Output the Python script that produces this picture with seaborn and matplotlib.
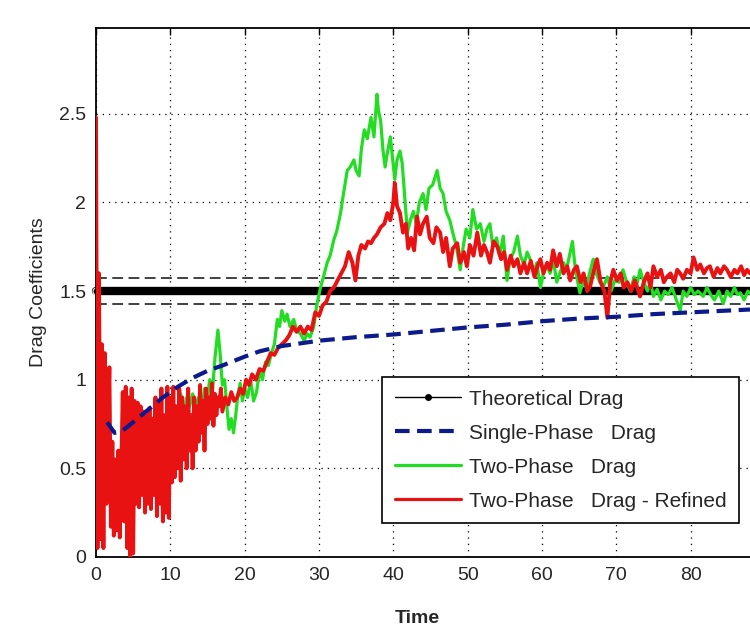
import seaborn as sns
import matplotlib.pyplot as plt
from matplotlib.lines import Line2D

# theoretical drag (constant) and +/-5% band
theo_t = [0, 100]
theo_v = [1.5, 1.5]
band_hi = [1.575, 1.575]
band_lo = [1.425, 1.425]

# single-phase drag
single_t = [1.5, 2.5, 3.5, 5, 7, 9, 11, 13, 15, 17, 20, 22, 25, 30, 35, 40, 45,
            50, 55, 60, 65, 70, 75, 80, 85, 90, 100]
single_v = [0.76, 0.70, 0.71, 0.76, 0.83, 0.90, 0.96, 1.01, 1.05, 1.08, 1.13, 1.16,
            1.19, 1.22, 1.24, 1.255, 1.275, 1.295, 1.31, 1.33, 1.345, 1.355, 1.37,
            1.38, 1.39, 1.40, 1.42]

# two-phase drag
green_t = [10.5, 11.0, 11.4, 11.8, 12.2, 12.6, 13.0, 13.4, 13.8, 14.2, 14.6, 15.0,
           15.3, 15.7, 16.0, 16.4, 16.7, 17.0, 17.3, 17.6, 17.9, 18.2, 18.5, 18.8,
           19.1, 19.4, 19.7, 20.0, 20.4, 20.8, 21.2, 21.6, 22.0, 22.4, 22.8, 23.2,
           23.6, 24.0, 24.4, 24.7, 25.0, 25.4, 25.7, 26.1, 26.6, 27.0, 27.5, 28.0,
           28.4, 28.8, 29.3, 29.7, 30.2, 30.6, 31.1, 31.5, 32.0, 32.4, 32.9, 33.3,
           33.8, 34.2, 34.7, 35.0, 35.4, 35.7, 36.1, 36.5, 37.0, 37.4, 37.8, 38.0,
           38.3, 38.6, 38.9, 39.2, 39.6, 39.9, 40.2, 40.5, 40.9, 41.2, 41.5, 41.9,
           42.3, 42.7, 43.1, 43.5, 44.0, 44.4, 44.8, 45.3, 45.9, 46.3, 46.7, 47.1,
           47.6, 48.0, 48.5, 49.0, 49.4, 49.8, 50.3, 50.7, 51.2, 51.7, 52.2, 52.6,
           53.0, 53.4, 53.9, 54.3, 54.8, 55.3, 55.7, 56.2, 56.7, 57.1, 57.6, 58.0,
           58.4, 58.9, 59.3, 59.8, 60.2, 60.6, 61.1, 61.5, 62.0, 62.4, 62.9, 63.3,
           63.7, 64.1, 64.5, 65.1, 65.5, 66.0, 66.4, 66.9, 67.3, 67.8, 68.3, 68.8,
           69.3, 69.8, 70.4, 70.9, 71.4, 71.9, 72.4, 72.8, 73.2, 73.7, 74.2, 74.6,
           75.0, 75.5, 76.0, 76.5, 77.0, 77.5, 78.0, 78.6, 79.0, 79.5, 80.0, 80.5,
           81.0, 81.7, 82.2, 82.7, 83.2, 83.8, 84.4, 84.9, 85.4, 85.9, 86.3, 86.7,
           87.2, 87.7, 88.2, 88.8]
green_v = [0.85, 0.78, 0.92, 0.80, 0.90, 0.85, 0.92, 0.86, 0.90, 0.80, 0.95, 0.90,
           1.00, 0.95, 1.12, 1.28, 1.15, 0.97, 1.00, 0.85, 0.72, 0.78, 0.70, 0.80,
           0.92, 0.98, 0.88, 0.95, 0.90, 1.00, 0.88, 0.93, 1.05, 1.00, 1.10, 1.08,
           1.15, 1.20, 1.34, 1.30, 1.39, 1.33, 1.37, 1.30, 1.34, 1.28, 1.26, 1.22,
           1.26, 1.24, 1.30, 1.42, 1.52, 1.58, 1.66, 1.70, 1.79, 1.84, 1.94, 2.05,
           2.18, 2.20, 2.24, 2.18, 2.15, 2.30, 2.41, 2.36, 2.48, 2.37, 2.61, 2.52,
           2.46, 2.30, 2.20, 2.28, 2.37, 2.25, 2.13, 2.24, 2.29, 2.22, 2.05, 1.83,
           1.90, 1.95, 1.88, 2.00, 2.05, 1.96, 2.08, 2.10, 2.18, 2.08, 2.05, 1.95,
           1.90, 1.83, 1.75, 1.62, 1.75, 1.85, 1.80, 1.96, 1.85, 1.88, 1.78, 1.85,
           1.88, 1.75, 1.80, 1.70, 1.81, 1.56, 1.68, 1.72, 1.81, 1.70, 1.65, 1.72,
           1.68, 1.60, 1.66, 1.52, 1.60, 1.65, 1.60, 1.68, 1.55, 1.60, 1.66, 1.62,
           1.70, 1.78, 1.62, 1.49, 1.55, 1.52, 1.60, 1.68, 1.60, 1.55, 1.53, 1.58,
           1.50, 1.56, 1.55, 1.62, 1.55, 1.50, 1.58, 1.54, 1.62, 1.55, 1.50, 1.55,
           1.47, 1.51, 1.45, 1.50, 1.48, 1.52, 1.46, 1.39, 1.50, 1.47, 1.52, 1.48,
           1.50, 1.47, 1.52, 1.48, 1.45, 1.50, 1.43, 1.50, 1.47, 1.52, 1.48, 1.49,
           1.45, 1.50, 1.48, 1.50]

# two-phase drag - refined
red_t = [0.0, 0.2, 0.4, 0.6, 0.8, 1.0, 1.2, 1.4, 1.6, 1.8, 2.0, 2.2, 2.4, 2.6, 2.8,
         3.0, 3.2, 3.4, 3.6, 3.8, 4.0, 4.2, 4.4, 4.6, 4.8, 5.0, 5.2, 5.4, 5.6, 5.8,
         6.0, 6.2, 6.4, 6.6, 6.8, 7.0, 7.2, 7.4, 7.6, 7.8, 8.0, 8.2, 8.4, 8.6, 8.8,
         9.0, 9.2, 9.4, 9.6, 9.8, 10.0, 10.2, 10.4, 10.6, 10.8, 11.0, 11.2, 11.4,
         11.6, 11.8, 12.0, 12.2, 12.4, 12.6, 12.8, 13.0, 13.2, 13.4, 13.6, 13.8,
         14.0, 14.2, 14.4, 14.6, 14.8, 15.0, 15.2, 15.4, 15.6, 15.8, 16.0, 16.2,
         16.4, 16.6, 16.8, 17.0, 17.4, 17.8, 18.2, 18.6, 19.0, 19.4, 19.8, 20.2,
         20.6, 21.0, 21.5, 22.0, 22.5, 23.0, 23.5, 24.0, 24.5, 25.0, 25.5, 26.0,
         26.5, 27.0, 27.5, 28.0, 28.5, 29.0, 29.5, 30.0, 30.5, 31.0, 31.5, 32.0,
         32.5, 33.0, 33.5, 34.0, 34.5, 34.9, 35.3, 35.7, 36.2, 36.6, 37.0, 37.4,
         37.8, 38.3, 38.8, 39.2, 39.6, 40.0, 40.2, 40.5, 40.9, 41.3, 41.7, 42.0,
         42.4, 42.8, 43.2, 43.6, 44.0, 44.5, 44.9, 45.4, 45.8, 46.3, 46.7, 47.1,
         47.6, 48.0, 48.6, 49.0, 49.5, 49.9, 50.3, 50.8, 51.3, 51.8, 52.2, 52.6,
         53.0, 53.5, 54.0, 54.5, 54.9, 55.3, 55.8, 56.2, 56.7, 57.1, 57.6, 58.0,
         58.5, 59.0, 59.4, 59.8, 60.2, 60.7, 61.1, 61.5, 62.0, 62.4, 62.9, 63.4,
         63.8, 64.3, 64.7, 65.2, 65.6, 66.1, 66.5, 67.0, 67.4, 67.9, 68.4, 68.8,
         69.2, 69.6, 70.1, 70.6, 71.0, 71.5, 72.0, 72.5, 73.2, 73.7, 74.2, 74.6,
         75.0, 75.5, 76.0, 76.4, 76.8, 77.3, 77.8, 78.2, 78.6, 79.0, 79.5, 80.0,
         80.4, 80.9, 81.3, 81.8, 82.2, 82.6, 83.1, 83.6, 84.0, 84.5, 84.9, 85.4,
         85.9, 86.3, 86.8, 87.2, 87.6, 88.0, 88.5, 89.0]
red_v = [2.48, 0.05, 1.60, 0.10, 1.20, 0.05, 1.15, 0.30, 0.70, 1.07, 0.17, 0.65,
         0.12, 0.55, 0.15, 0.60, 0.11, 0.50, 0.93, 0.20, 0.96, 0.05, 0.90, 0.00,
         0.95, 0.02, 0.88, 0.30, 0.87, 0.28, 0.85, 0.35, 0.82, 0.25, 0.80, 0.30,
         0.84, 0.27, 0.78, 0.35, 0.90, 0.23, 0.86, 0.30, 0.95, 0.20, 0.80, 0.25,
         0.96, 0.22, 0.90, 0.42, 0.96, 0.45, 0.85, 0.50, 0.95, 0.43, 0.90, 0.55,
         0.85, 0.50, 0.95, 0.60, 0.80, 0.50, 0.90, 0.60, 0.85, 0.65, 0.97, 0.70,
         0.88, 0.60, 0.95, 0.75, 0.90, 0.78, 0.98, 0.74, 0.92, 0.80, 0.90, 0.85,
         0.95, 0.82, 0.90, 0.86, 0.93, 0.88, 0.90, 0.95, 0.92, 1.00, 0.97, 1.03,
         1.00, 1.06, 1.05, 1.10, 1.15, 1.14, 1.18, 1.20, 1.22, 1.25, 1.30, 1.27,
         1.30, 1.26, 1.30, 1.28, 1.38, 1.36, 1.42, 1.44, 1.50, 1.52, 1.56, 1.60,
         1.64, 1.72, 1.66, 1.56, 1.70, 1.76, 1.74, 1.78, 1.77, 1.80, 1.82, 1.86,
         1.88, 1.94, 1.90, 2.00, 2.11, 1.98, 1.94, 1.83, 1.88, 1.74, 1.80, 1.73,
         1.92, 1.82, 1.88, 1.92, 1.80, 1.77, 1.86, 1.83, 1.72, 1.80, 1.64, 1.74,
         1.77, 1.66, 1.72, 1.64, 1.76, 1.70, 1.83, 1.70, 1.76, 1.72, 1.66, 1.78,
         1.75, 1.68, 1.72, 1.62, 1.70, 1.64, 1.68, 1.60, 1.66, 1.60, 1.67, 1.58,
         1.64, 1.68, 1.60, 1.66, 1.62, 1.73, 1.64, 1.71, 1.60, 1.64, 1.56, 1.62,
         1.64, 1.55, 1.60, 1.50, 1.53, 1.62, 1.68, 1.55, 1.50, 1.35, 1.55, 1.62,
         1.56, 1.60, 1.52, 1.55, 1.50, 1.56, 1.47, 1.55, 1.60, 1.52, 1.64, 1.58,
         1.62, 1.55, 1.58, 1.60, 1.55, 1.62, 1.60, 1.57, 1.62, 1.60, 1.69, 1.62,
         1.65, 1.60, 1.63, 1.64, 1.58, 1.63, 1.60, 1.64, 1.62, 1.58, 1.62, 1.60,
         1.64, 1.59, 1.62, 1.60, 1.62, 1.60]

x_ticks = [0, 10, 20, 30, 40, 50, 60, 70, 80, 90, 100]
x_ticklabels = ['0', '10', '20', '30', '40', '50', '60', '70', '80', '', '']
y_ticks = [0, 0.5, 1, 1.5, 2, 2.5]
y_ticklabels = ['0', '0.5', '1', '1.5', '2', '2.5']
labels = ['Theoretical Drag', 'Single-Phase   Drag', 'Two-Phase   Drag',
          'Two-Phase   Drag - Refined']

sns.set_style('white')
plt.rcParams['font.family'] = ['Liberation Sans', 'DejaVu Sans']

fig = plt.figure(figsize=(7.5, 6.3), dpi=100)
# axes run past the right edge, as in the cropped original
ax = fig.add_axes([0.128, 0.116, 0.991, 0.8397])

sns.lineplot(x=theo_t, y=theo_v, ax=ax, color='black', linewidth=6,
             marker='.', markersize=10, clip_on=False, zorder=2)
sns.lineplot(x=theo_t, y=band_hi, ax=ax, color='#333333', linewidth=1.3,
             linestyle=(0, (6, 3)), zorder=2)
sns.lineplot(x=theo_t, y=band_lo, ax=ax, color='#333333', linewidth=1.3,
             linestyle=(0, (6, 3)), zorder=2)
sns.lineplot(x=green_t, y=green_v, ax=ax, color='#22dd22', linewidth=2.3,
             estimator=None, sort=False, zorder=3)
sns.lineplot(x=red_t, y=red_v, ax=ax, color='#e81212', linewidth=2.8,
             estimator=None, sort=False, zorder=4)
sns.lineplot(x=single_t, y=single_v, ax=ax, color='#0c1a8c', linewidth=3,
             linestyle=(0, (3.5, 1.8)), zorder=5)

ax.set_xlim(0, 100)
ax.set_ylim(0, 2.985)
ax.set_xticks(x_ticks)
ax.set_xticklabels(x_ticklabels)
ax.set_yticks(y_ticks)
ax.set_yticklabels(y_ticklabels)
ax.grid(True, color='black', linestyle=(0, (1, 4)), linewidth=0.9)
ax.tick_params(direction='in', length=5, top=True, right=True, labelsize=14,
               width=1, color='black', pad=7)
for s in ax.spines.values():
    s.set_color('black')
    s.set_linewidth(1.3)

ax.set_xlabel('Time', fontsize=14, fontweight='bold')
ax.xaxis.set_label_coords(0.432, -0.1)
ax.set_ylabel('Drag Coefficients', fontsize=14)
ax.yaxis.set_label_coords(-0.066, 0.5)

handles = [
    Line2D([], [], color='black', linewidth=1, marker='.', markersize=8),
    Line2D([], [], color='#0c1a8c', linewidth=3, linestyle=(0, (3.5, 1.8))),
    Line2D([], [], color='#22dd22', linewidth=2.3),
    Line2D([], [], color='#e81212', linewidth=2.3),
]
leg = ax.legend(handles, labels, loc='lower left', bbox_to_anchor=(0.385, 0.064),
                fontsize=15, handlelength=3.2, handletextpad=0.35,
                labelspacing=0.72, borderpad=0.6, borderaxespad=0,
                fancybox=False, framealpha=1, edgecolor='black')
leg.get_frame().set_linewidth(1.2)

fig.savefig('out.png', dpi=100)
